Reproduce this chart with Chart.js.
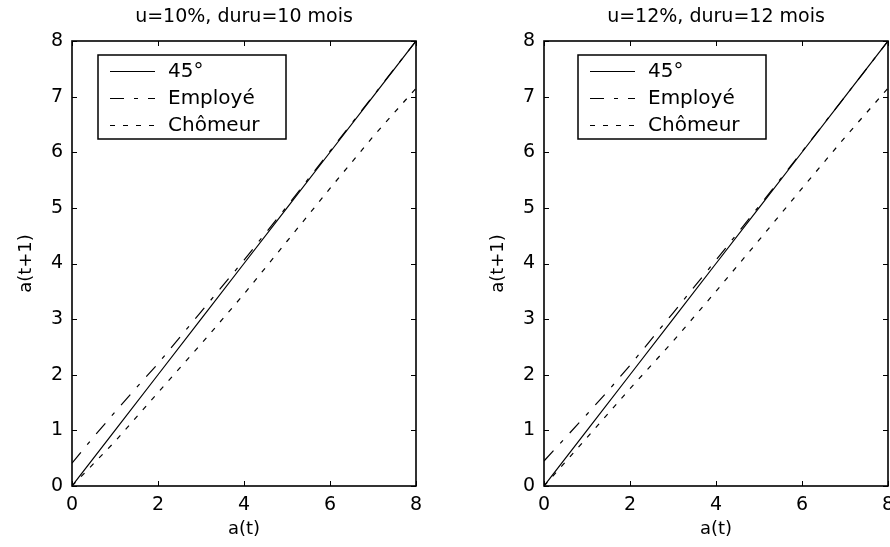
<!DOCTYPE html>
<html>
<head>
<meta charset="utf-8">
<script src="https://cdn.jsdelivr.net/npm/chart.js@4"></script>
<style>
  html, body { margin: 0; padding: 0; background: #fff; overflow: hidden; }
  #wrap { position: relative; width: 890px; height: 547px; overflow: hidden; }
  canvas { position: absolute; top: 0; }
  #chartLeft { left: 0; }
  #chartRight { left: 472px; }
</style>
</head>
<body>
<div id="wrap">
  <canvas id="chartLeft" width="445" height="547"></canvas>
  <canvas id="chartRight" width="445" height="547"></canvas>
</div>
<script>
// a(t) grid for the 45° reference and the unemployed path
const aGrid = [0, 1, 2, 3, 4, 5, 6, 7, 8];
const line45 = [0, 1, 2, 3, 4, 5, 6, 7, 8];
// employed path sampled more finely near the origin where it bends
const aGridEmp = [0, 0.5, 1, 1.5, 2, 3, 4, 5, 6, 7, 8];

// u=10%, duru=10 mois
const employeA = [0.41, 0.88, 1.33, 1.77, 2.2, 3.13, 4.06, 5.03, 6.02, 7.01, 8.0];
const chomeurA = [0, 0.8, 1.68, 2.55, 3.45, 4.4, 5.35, 6.28, 7.15];

// u=12%, duru=12 mois
const employeB = [0.45, 0.87, 1.29, 1.72, 2.17, 3.11, 4.06, 5.03, 6.01, 7.0, 8.0];
const chomeurB = [0, 0.87, 1.75, 2.6, 3.5, 4.42, 5.35, 6.27, 7.15];

const xTicks = [0, 2, 4, 6, 8];
const yTicks = [0, 1, 2, 3, 4, 5, 6, 7, 8];

const FONT = 'DejaVu Sans';

function pts(xs, ys) {
  return xs.map((x, i) => ({ x: x, y: ys[i] }));
}

// axes box with inward ticks on all four sides, plus the title above the box
const framePlugin = {
  id: 'frame',
  afterDraw(chart, args, opts) {
    const { ctx, chartArea: a } = chart;
    const sx = chart.scales.x, sy = chart.scales.y;
    ctx.save();
    ctx.strokeStyle = '#000';
    ctx.lineWidth = 1;
    ctx.beginPath();
    xTicks.forEach(v => {
      const px = Math.round(sx.getPixelForValue(v)) + 0.5;
      ctx.moveTo(px, a.bottom); ctx.lineTo(px, a.bottom - 5);
      ctx.moveTo(px, a.top); ctx.lineTo(px, a.top + 5);
    });
    yTicks.forEach(v => {
      const py = Math.round(sy.getPixelForValue(v)) + 0.5;
      ctx.moveTo(a.left, py); ctx.lineTo(a.left + 5, py);
      ctx.moveTo(a.right, py); ctx.lineTo(a.right - 5, py);
    });
    ctx.stroke();
    ctx.lineWidth = 1.6;
    ctx.strokeRect(a.left, a.top, a.right - a.left, a.bottom - a.top);

    ctx.fillStyle = '#000';
    ctx.font = '19px "' + FONT + '"';
    ctx.textAlign = 'center';
    ctx.textBaseline = 'middle';
    ctx.fillText(opts.text, (a.left + a.right) / 2, 17);
    ctx.restore();
  }
};

// boxed legend drawn inside the plot, top-left
const boxLegendPlugin = {
  id: 'boxLegend',
  afterDraw(chart, args, opts) {
    const { ctx, chartArea: a } = chart;
    const bx = a.left + opts.offsetX, by = a.top + 14;
    const bw = 188, bh = 84;
    ctx.save();
    ctx.fillStyle = '#fff';
    ctx.fillRect(bx, by, bw, bh);
    ctx.strokeStyle = '#000';
    ctx.lineWidth = 1.5;
    ctx.strokeRect(bx, by, bw, bh);
    ctx.font = '20px "' + FONT + '"';
    ctx.textBaseline = 'middle';
    ctx.textAlign = 'left';
    chart.data.datasets.forEach((ds, i) => {
      const ry = Math.round(by + 16 + i * 27) + 0.5;
      ctx.lineWidth = 1.2;
      ctx.setLineDash(ds.borderDash || []);
      ctx.beginPath();
      ctx.moveTo(bx + 12, ry);
      ctx.lineTo(bx + 57, ry);
      ctx.stroke();
      ctx.setLineDash([]);
      ctx.fillStyle = '#000';
      ctx.fillText(ds.label, bx + 70, ry);
    });
    ctx.restore();
  }
};

function makeChart(id, title, employe, chomeur, legendX) {
  return new Chart(document.getElementById(id), {
    type: 'line',
    data: {
      datasets: [{
        label: '45°',
        data: pts(aGrid, line45),
        borderColor: '#000',
        borderWidth: 1.2,
        pointRadius: 0,
        tension: 0
      },
      {
        label: 'Employé',
        data: pts(aGridEmp, employe),
        borderColor: '#000',
        borderWidth: 1.2,
        borderDash: [14, 10, 4, 10],
        pointRadius: 0,
        tension: 0
      },
      {
        label: 'Chômeur',
        data: pts(aGrid, chomeur),
        borderColor: '#000',
        borderWidth: 1.2,
        borderDash: [5, 8],
        pointRadius: 0,
        tension: 0
      }]
    },
    options: {
      responsive: false,
      animation: false,
      layout: { padding: { top: 41, right: 29, bottom: 0, left: 0 } },
      plugins: {
        legend: { display: false },
        tooltip: { enabled: false },
        frame: { text: title },
        boxLegend: { offsetX: legendX }
      },
      scales: {
        x: {
          type: 'linear',
          min: 0,
          max: 8,
          afterBuildTicks: s => { s.ticks = xTicks.map(v => ({ value: v })); },
          afterFit: s => { s.height = 61; },
          grid: { display: false, drawTicks: false },
          border: { display: false },
          ticks: { color: '#000', padding: 8, font: { family: FONT, size: 19 } },
          title: {
            display: true,
            text: 'a(t)',
            color: '#000',
            padding: { top: 0, bottom: 7 },
            font: { family: FONT, size: 18 }
          }
        },
        y: {
          type: 'linear',
          min: 0,
          max: 8,
          afterBuildTicks: s => { s.ticks = yTicks.map(v => ({ value: v })); },
          afterFit: s => { s.width = 72; },
          grid: { display: false, drawTicks: false },
          border: { display: false },
          ticks: { color: '#000', padding: 9, font: { family: FONT, size: 19 } },
          title: {
            display: true,
            text: 'a(t+1)',
            color: '#000',
            padding: { top: 16, bottom: 0 },
            font: { family: FONT, size: 18 }
          }
        }
      }
    },
    plugins: [framePlugin, boxLegendPlugin]
  });
}

makeChart('chartLeft', 'u=10%, duru=10 mois', employeA, chomeurA, 26);
makeChart('chartRight', 'u=12%, duru=12 mois', employeB, chomeurB, 34);
</script>
</body>
</html>
